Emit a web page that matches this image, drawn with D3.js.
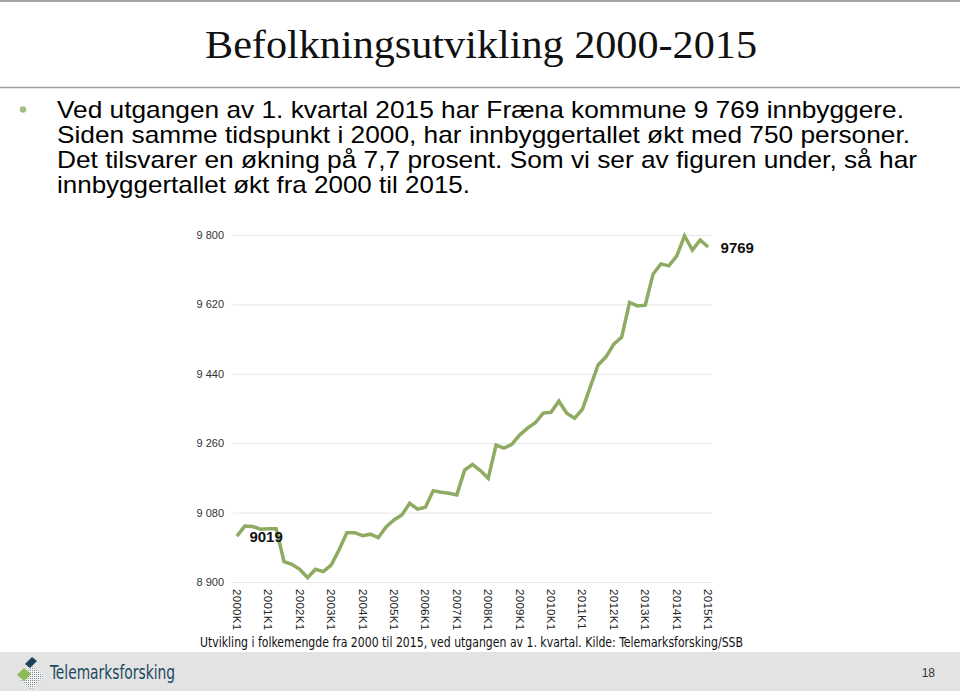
<!DOCTYPE html>
<html>
<head>
<meta charset="utf-8">
<script src="https://cdn.jsdelivr.net/npm/d3@7"></script>
<style>
    body { margin: 0; background: #fff; }
    svg { display: block; }
</style>
</head>
<body>
<script>
// Folkemengde per 1. kvartal, 2000K1 - 2015K1
const years = d3.range(2000, 2016);
const quarters = years.flatMap(y => y === 2015 ? [y + 'K1'] : [1, 2, 3, 4].map(q => y + 'K' + q));
const population = [
    9019, 9045, 9044, 9037, 9038, 9038, 8953, 8946, 8933, 8911,
    8933, 8927, 8944, 8983, 9028, 9028, 9020, 9024, 9015, 9043,
    9061, 9074, 9104, 9089, 9094, 9137, 9133, 9130, 9126, 9190,
    9205, 9189, 9169, 9255, 9247, 9257, 9281, 9299, 9313, 9338,
    9340, 9369, 9338, 9325, 9348, 9406, 9463, 9484, 9517, 9535,
    9625, 9616, 9618, 9699, 9725, 9720, 9745, 9798, 9761, 9787,
    9769
];
const yTicks = [8900, 9080, 9260, 9440, 9620, 9800];
const xTickLabels = years.map(y => y + 'K1');

const titleText = 'Befolkningsutvikling 2000-2015';
const bulletLines = [
    'Ved utgangen av 1. kvartal 2015 har Fræna kommune 9 769 innbyggere.',
    'Siden samme tidspunkt i 2000, har innbyggertallet økt med 750 personer.',
    'Det tilsvarer en økning på 7,7 prosent. Som vi ser av figuren under, så har',
    'innbyggertallet økt fra 2000 til 2015.'
];
const captionText = 'Utvikling i folkemengde fra 2000 til 2015, ved utgangen av 1. kvartal. Kilde: Telemarksforsking/SSB';

class Slide {
    constructor() {
        this.width = 960;
        this.height = 694;
    }

    init() {
        this.svg = d3.select('body')
            .append('svg')
            .attr('width', this.width)
            .attr('height', this.height);
        this.drawHeader();
        this.drawGraph();
        this.drawFooter();
    }

    drawHeader() {
        const svg = this.svg;

        svg.append('line')
            .attr('x1', 0).attr('x2', this.width)
            .attr('y1', 1).attr('y2', 1)
            .attr('stroke', '#a6a6a6')
            .attr('stroke-width', 2);
        svg.append('line')
            .attr('x1', 0).attr('x2', this.width)
            .attr('y1', 87.5).attr('y2', 87.5)
            .attr('stroke', '#a0a0a0')
            .attr('stroke-width', 1.5);

        svg.append('text')
            .attr('x', 205)
            .attr('y', 58)
            .attr('textLength', 552)
            .attr('lengthAdjust', 'spacingAndGlyphs')
            .style('font-family', '"Liberation Serif", "DejaVu Serif", serif')
            .style('font-size', '40px')
            .attr('fill', '#111')
            .text(titleText);

        svg.append('circle')
            .attr('cx', 23).attr('cy', 109.5).attr('r', 3.2)
            .attr('fill', '#a3bf85');

        const lineEnds = [904, 910, 917, 470];
        svg.append('g')
            .selectAll('text')
            .data(bulletLines)
            .enter().append('text')
            .attr('x', 57)
            .attr('y', (d, i) => 118 + i * 25)
            .attr('textLength', (d, i) => lineEnds[i] - 57)
            .attr('lengthAdjust', 'spacingAndGlyphs')
            .style('font-family', '"Liberation Sans", Arial, sans-serif')
            .style('font-size', '24px')
            .attr('fill', '#000')
            .text(d => d);
    }

    drawGraph() {
        const svg = this.svg;
        const left = 233, right = 712, top = 235, bottom = 582;

        const x = d3.scaleBand()
            .domain(quarters)
            .range([left, right]);
        const cx = d => x(d) + x.bandwidth() / 2;

        const y = d3.scaleLinear()
            .domain([8900, 9800])
            .range([bottom, top]);

        const nb = d3.formatLocale({decimal: ',', thousands: ' ', grouping: [3], currency: ['', '']});
        const fmt = nb.format(',');

        // grille
        const yAxis = d3.axisLeft(y)
            .tickValues(yTicks)
            .tickSize(-(right - left))
            .tickPadding(9)
            .tickFormat(fmt);
        const gy = svg.append('g')
            .attr('transform', `translate(${left},0)`)
            .call(yAxis);
        gy.select('.domain').remove();
        gy.selectAll('.tick line').attr('stroke', '#e6e6e6');
        gy.selectAll('.tick text')
            .style('font-family', '"Liberation Sans", Arial, sans-serif')
            .style('font-size', '11px')
            .attr('fill', '#333');

        const xAxis = d3.axisBottom(x)
            .tickValues(xTickLabels)
            .tickSize(0)
            .tickPadding(0);
        const gx = svg.append('g')
            .attr('transform', `translate(0,${bottom})`)
            .call(xAxis);
        gx.select('.domain').remove();
        gx.selectAll('.tick text')
            .attr('transform', 'rotate(90)')
            .attr('x', 7)
            .attr('y', 0)
            .attr('dy', '0.35em')
            .style('text-anchor', 'start')
            .style('font-family', '"Liberation Sans", Arial, sans-serif')
            .style('font-size', '11.5px')
            .style('letter-spacing', '0.3px')
            .attr('fill', '#222');

        const line = d3.line()
            .x((d, i) => cx(quarters[i]))
            .y(d => y(d));

        svg.append('path')
            .datum(population)
            .attr('fill', 'none')
            .attr('stroke', '#8fab62')
            .attr('stroke-width', 3.5)
            .attr('stroke-linejoin', 'miter')
            .attr('d', line);

        // étiquettes premier / dernier point
        const ends = [0, population.length - 1];
        svg.append('g')
            .selectAll('text')
            .data(ends)
            .enter().append('text')
            .attr('x', i => cx(quarters[i]) + 12.5)
            .attr('y', i => y(population[i]) + 6)
            .style('font-family', '"Liberation Sans", Arial, sans-serif')
            .style('font-size', '15px')
            .style('font-weight', 'bold')
            .attr('fill', '#111')
            .text(i => population[i]);

        svg.append('text')
            .attr('x', 200)
            .attr('y', 647)
            .attr('textLength', 543)
            .attr('lengthAdjust', 'spacingAndGlyphs')
            .style('font-family', '"Liberation Sans Narrow", "DejaVu Sans Condensed", sans-serif')
            .style('font-size', '14px')
            .attr('fill', '#111')
            .text(captionText);
    }

    drawFooter() {
        const svg = this.svg;
        svg.append('rect')
            .attr('x', 0).attr('y', 652)
            .attr('width', this.width).attr('height', 39)
            .attr('fill', '#e3e3e3');

        // logo
        const logo = svg.append('g');
        const defs = svg.append('defs');
        const pat = defs.append('pattern')
            .attr('id', 'hatch')
            .attr('patternUnits', 'userSpaceOnUse')
            .attr('width', 2).attr('height', 2);
        pat.append('rect').attr('width', 2).attr('height', 2).attr('fill', '#f2f2f2');
        pat.append('rect').attr('width', 1).attr('height', 1).attr('fill', '#7d8f96');
        logo.append('polygon')
            .attr('points', '32,666 44,676 31,690 20,680')
            .attr('fill', 'url(#hatch)');
        logo.append('polygon')
            .attr('points', '17,675 24,668 31,674 24,681')
            .attr('fill', '#8dbb58');
        logo.append('polygon')
            .attr('points', '25,664 32,657 37,661 30,668')
            .attr('fill', '#1b4257');

        svg.append('text')
            .attr('x', 50)
            .attr('y', 679)
            .attr('textLength', 125)
            .attr('lengthAdjust', 'spacingAndGlyphs')
            .style('font-family', '"Liberation Sans Narrow", "DejaVu Sans Condensed", sans-serif')
            .style('font-size', '20px')
            .attr('fill', '#1d4a5e')
            .text('Telemarksforsking');

        svg.append('text')
            .attr('x', 935)
            .attr('y', 677)
            .style('text-anchor', 'end')
            .style('font-family', '"Liberation Sans", Arial, sans-serif')
            .style('font-size', '12px')
            .attr('fill', '#333')
            .text('18');
    }
}

new Slide().init();
</script>
</body>
</html>
